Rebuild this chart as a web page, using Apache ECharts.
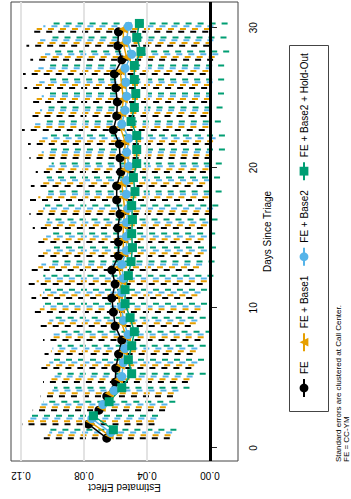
<!DOCTYPE html>
<html>
<head>
<meta charset="utf-8">
<script src="https://cdn.jsdelivr.net/npm/echarts@6/dist/echarts.min.js"></script>
<style>
html, body { margin: 0; padding: 0; background: #fff; width: 351px; height: 499px; overflow: hidden; }
/* the chart is laid out landscape and turned a quarter turn counter-clockwise */
#chart { position: absolute; left: 0; top: 499px; width: 499px; height: 351px;
         transform-origin: 0 0; transform: rotate(-90deg); }
</style>
</head>
<body>
<div id="chart"></div>
<script>
// Days since triage
const days = [1,2,3,4,5,6,7,8,9,10,11,12,13,14,15,16,17,18,19,20,21,22,23,24,25,26,27,28,29,30];

const modelNames = ['FE', 'FE + Base1', 'FE + Base2', 'FE + Base2 + Hold-Out'];

// Point estimates per model
const feEst = [0.0655,0.0772,0.0705,0.0655,0.0600,0.0598,0.0580,0.0560,0.0602,0.0613,
               0.0623,0.0602,0.0623,0.0581,0.0581,0.0585,0.0571,0.0592,0.0592,0.0566,
               0.0571,0.0575,0.0613,0.0592,0.0588,0.0598,0.0607,0.0560,0.0585,0.0581];
const base1Est = [0.0640,0.0765,0.0690,0.0640,0.0580,0.0570,0.0550,0.0530,0.0560,0.0570,
                  0.0580,0.0560,0.0580,0.0550,0.0550,0.0550,0.0540,0.0550,0.0560,0.0540,
                  0.0540,0.0540,0.0570,0.0560,0.0550,0.0560,0.0570,0.0530,0.0550,0.0550];
const base2Est = [0.0630,0.0750,0.0680,0.0610,0.0560,0.0550,0.0540,0.0520,0.0550,0.0560,
                  0.0560,0.0550,0.0560,0.0530,0.0530,0.0530,0.0520,0.0530,0.0530,0.0515,
                  0.0528,0.0514,0.0560,0.0539,0.0528,0.0533,0.0539,0.0497,0.0528,0.0518];
const holdOutEst = [0.0613,0.0740,0.0640,0.0560,0.0497,0.0518,0.0497,0.0480,0.0507,0.0539,
                    0.0539,0.0518,0.0501,0.0492,0.0497,0.0492,0.0497,0.0476,0.0486,0.0465,
                    0.0465,0.0465,0.0501,0.0480,0.0471,0.0480,0.0480,0.0438,0.0465,0.0448];

// Half-widths of the 95% intervals
const feHalf = [0.040,0.042,0.042,0.042,0.046,0.048,0.047,0.050,0.048,0.053,
                0.051,0.0556,0.052,0.052,0.052,0.054,0.0575,0.0554,0.0545,0.054,
                0.0575,0.058,0.058,0.057,0.057,0.058,0.058,0.058,0.058,0.057];
const base1Half = [0.039,0.041,0.041,0.041,0.045,0.047,0.046,0.049,0.047,0.051,
                   0.050,0.054,0.051,0.051,0.051,0.053,0.055,0.054,0.053,0.053,
                   0.055,0.056,0.056,0.055,0.055,0.056,0.056,0.056,0.056,0.055];
const base2Half = [0.039,0.041,0.041,0.041,0.045,0.047,0.046,0.048,0.047,0.050,
                   0.050,0.053,0.051,0.051,0.051,0.052,0.054,0.053,0.053,0.052,
                   0.054,0.055,0.055,0.054,0.054,0.055,0.055,0.055,0.055,0.054];
const holdOutHalf = [0.040,0.041,0.042,0.043,0.047,0.048,0.047,0.049,0.048,0.052,
                     0.052,0.054,0.053,0.053,0.053,0.054,0.055,0.055,0.055,0.054,
                     0.056,0.056,0.057,0.056,0.056,0.057,0.057,0.056,0.057,0.056];

const dayTicks = [0, 10, 20, 30];
const effectTicks = [0, 0.04, 0.08, 0.12];
const xTitle = 'Days Since Triage';
const yTitle = 'Estimated Effect';
const footnotes = ['Standard errors are clustered at Call Center.', 'FE = CC-YM'];

const estimates = [feEst, base1Est, base2Est, holdOutEst];
const halves = [feHalf, base1Half, base2Half, holdOutHalf];
const colors = ['#000000', '#E69F00', '#56B4E9', '#009E73'];
const symbols = ['circle', 'triangle', 'circle', 'rect'];
const symbolSizes = [9, 9, 9, 9];
const dodge = [-0.3, -0.1, 0.1, 0.3];

const FONT = '"Liberation Sans", Arial, Helvetica, sans-serif';

// plot area inside the landscape canvas
const GRID = { left: 38, right: 2, top: 11, bottom: 113 };
const CANVAS_H = 351;

const intervalSeries = modelNames.map((name, i) => ({
  type: 'custom',
  name: name + ' interval',
  z: 2,
  clip: true,
  silent: true,
  encode: { x: 0, y: [1, 2] },
  data: days.map((d, k) => [d + dodge[i], estimates[i][k] - halves[i][k], estimates[i][k] + halves[i][k]]),
  renderItem: (params, api) => {
    const a = api.coord([api.value(0), api.value(1)]);
    const b = api.coord([api.value(0), api.value(2)]);
    return {
      type: 'line',
      shape: { x1: a[0], y1: a[1], x2: b[0], y2: b[1] },
      style: { stroke: colors[i], lineWidth: 2, lineDash: [6, 6] }
    };
  }
}));

const pointSeries = modelNames.map((name, i) => ({
  type: 'line',
  name: name,
  z: 3,
  symbol: symbols[i],
  symbolSize: symbolSizes[i],
  showAllSymbol: true,
  color: colors[i],
  itemStyle: { color: colors[i] },
  lineStyle: { color: colors[i], width: 1.5 },
  emphasis: { disabled: true },
  data: days.map((d, k) => [d + dodge[i], estimates[i][k]])
}));

// reference lines: light grid at the effect ticks and a heavy zero line
const guideSeries = [{
  type: 'line', name: 'grid', z: 1, silent: true, data: [],
  markLine: {
    silent: true, symbol: 'none', label: { show: false },
    lineStyle: { color: '#e3e3e3', width: 2, type: 'solid' },
    data: effectTicks.filter(v => v !== 0).map(v => ({ yAxis: v }))
  }
}, {
  type: 'line', name: 'zero', z: 5, silent: true, data: [],
  markLine: {
    silent: true, symbol: 'none', label: { show: false },
    lineStyle: { color: '#000', width: 3, type: 'solid' },
    data: [{ yAxis: 0 }]
  }
}];

const chart = echarts.init(document.getElementById('chart'), null, { renderer: 'svg' });
chart.setOption({
  animation: false,
  textStyle: { fontFamily: FONT, color: '#000' },
  grid: { left: GRID.left, right: GRID.right, top: GRID.top, bottom: GRID.bottom,
          show: true, borderColor: '#444', borderWidth: 1,
          containLabel: false, outerBoundsMode: 'none' },
  xAxis: {
    type: 'value', min: -0.93, max: 31.83,
    axisLine: { show: false }, splitLine: { show: false },
    axisTick: { show: true, customValues: dayTicks, length: 7, lineStyle: { color: '#222', width: 1 } },
    axisLabel: { customValues: dayTicks, margin: 10, fontSize: 10, color: '#000', fontFamily: FONT },
    name: xTitle, nameLocation: 'middle', nameGap: 24,
    nameTextStyle: { fontSize: 10, color: '#000', fontFamily: FONT }
  },
  yAxis: {
    type: 'value', min: -0.0178, max: 0.1263,
    axisLine: { show: false }, splitLine: { show: false },
    axisTick: { show: true, customValues: effectTicks, length: 6, lineStyle: { color: '#222', width: 1 } },
    axisLabel: { customValues: effectTicks, rotate: 90, margin: 9, fontSize: 10, color: '#000',
                 fontFamily: FONT, formatter: v => Number(v).toFixed(2) }
  },
  legend: {
    data: modelNames, left: 85, top: 287, orient: 'horizontal',
    itemWidth: 18, itemHeight: 11, itemGap: 9,
    padding: [12, 7, 12, 16],
    selectedMode: false,
    textStyle: { fontSize: 10, color: '#000', fontFamily: FONT }
  },
  graphic: [
    // vertical title of the effect axis, centred on the plot area
    { type: 'text', x: 12, y: GRID.top + (CANVAS_H - GRID.top - GRID.bottom) / 2,
      rotation: Math.PI / 2, silent: true,
      style: { text: yTitle, fontSize: 10, fill: '#000', fontFamily: FONT,
               textAlign: 'center', textVerticalAlign: 'middle' } },
    // frame around the legend
    { type: 'rect', left: 85, top: 287, z: 10, silent: true,
      shape: { width: 366, height: 39 },
      style: { fill: 'none', stroke: '#444', lineWidth: 1 } },
    ...footnotes.map((t, j) => ({
      type: 'text', left: 37, top: 334 + j * 8.5, silent: true,
      style: { text: t, fontSize: 8, fill: '#000', fontFamily: FONT }
    }))
  ],
  series: [...guideSeries, ...intervalSeries, ...pointSeries]
});
</script>
</body>
</html>
